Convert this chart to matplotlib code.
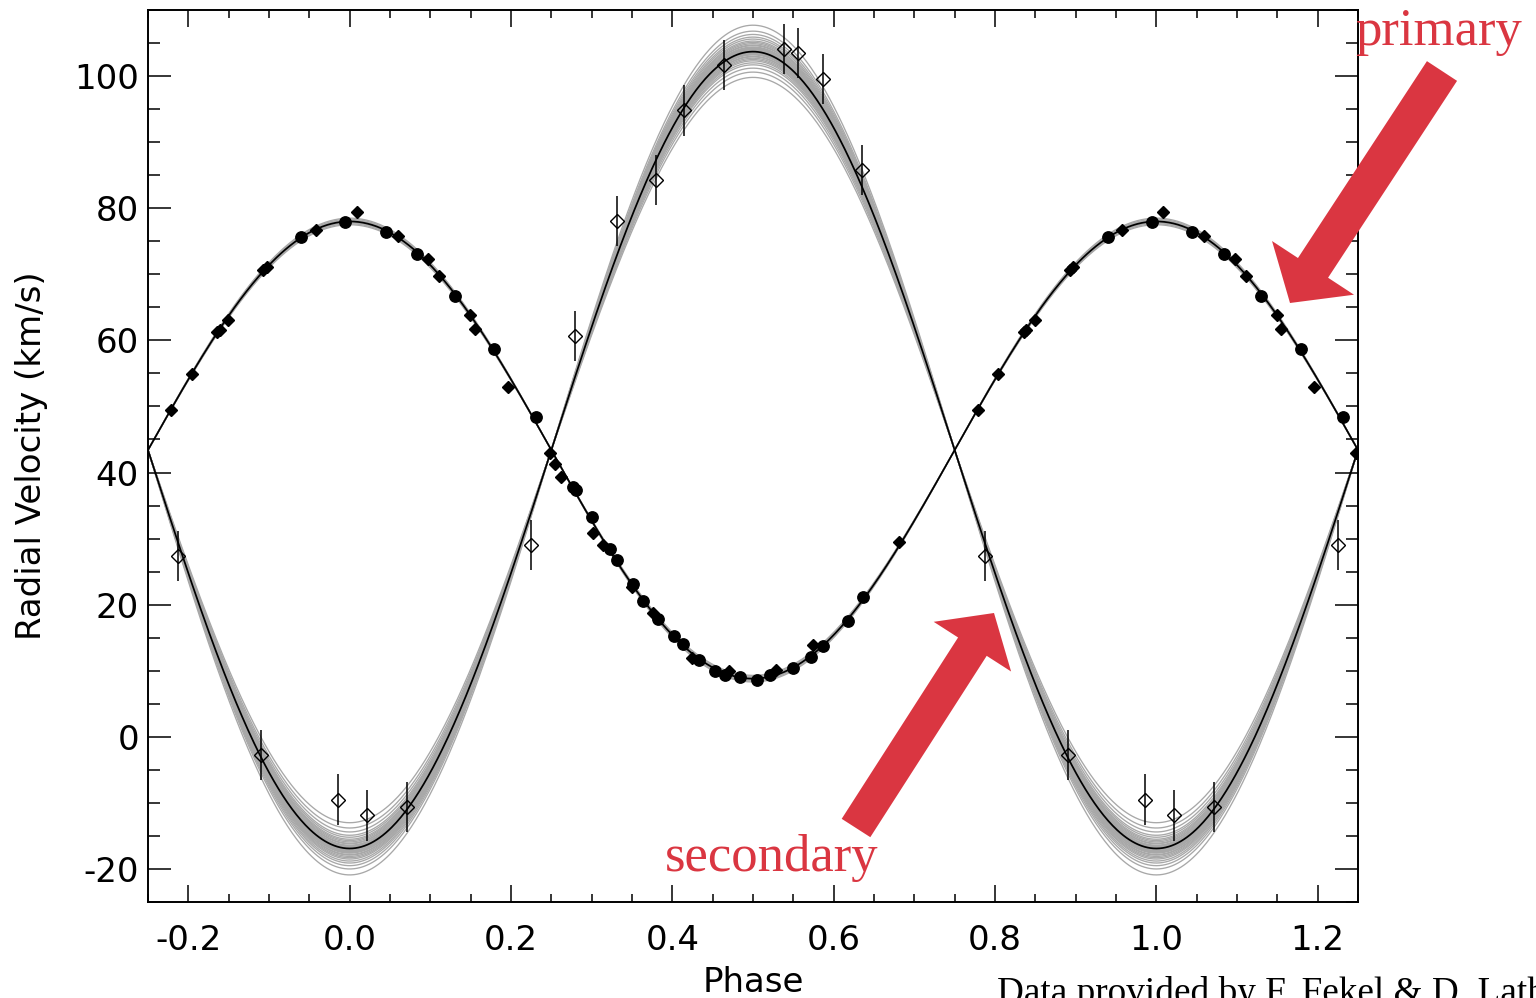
import numpy as np
import matplotlib
matplotlib.use("Agg")
import matplotlib.pyplot as plt
from matplotlib.ticker import MultipleLocator, FormatStrFormatter
from matplotlib.patches import FancyArrow

plt.rcParams["axes.unicode_minus"] = False
plt.rcParams["font.family"] = "DejaVu Sans"

# orbit solution (circular orbit)
gamma = 43.4
K1 = 34.6
K2 = 60.3

# posterior draws of the semi-amplitudes (grey curves)
K1_samples = [34.1, 34.25, 34.4, 34.5, 34.6, 34.7, 34.8, 34.95, 35.1]
K2_samples = [56.4, 57.2, 57.8, 58.3, 58.6, 58.9, 59.1, 59.3, 59.5, 59.6,
              59.8, 59.9, 60.0, 60.1, 60.2, 60.3, 60.4, 60.5, 60.6, 60.7,
              60.8, 60.9, 61.0, 61.2, 61.3, 61.5, 61.7, 61.9, 62.2, 62.5,
              62.9, 63.4, 64.3]

# primary, first data set (filled circles)
prim_a_phase = [0.940, 0.9945, 0.0447, 0.0839, 0.130, 0.179, 0.231, 0.277,
                0.2806, 0.300, 0.3227, 0.331, 0.351, 0.364, 0.3826, 0.402,
                0.4136, 0.4335, 0.4529, 0.465, 0.4839, 0.5046, 0.521, 0.550,
                0.5715, 0.587, 0.618, 0.6368]
prim_a_rv = [75.7, 77.9, 76.4, 73.1, 66.7, 58.7, 48.4, 37.8,
             37.3, 33.3, 28.5, 26.7, 23.1, 20.5, 17.8, 15.3,
             14.0, 11.6, 10.0, 9.4, 9.1, 8.6, 9.4, 10.4,
             12.1, 13.8, 17.6, 21.2]

# primary, second data set (filled diamonds)
prim_b_phase = [0.7785, 0.804, 0.836, 0.839, 0.849, 0.893, 0.897, 0.958,
                0.0087, 0.0595, 0.097, 0.111, 0.149, 0.155, 0.196, 0.248,
                0.2545, 0.2616, 0.302, 0.3145, 0.3496, 0.3764, 0.424, 0.4706,
                0.529, 0.5748, 0.6814]
prim_b_rv = [49.5, 54.9, 61.2, 61.5, 63.1, 70.6, 71.1, 76.7,
             79.4, 75.8, 72.3, 69.8, 63.9, 61.7, 52.9, 42.9,
             41.3, 39.3, 30.8, 29.0, 22.7, 18.7, 11.9, 9.9,
             10.1, 13.9, 29.5]

# secondary (open diamonds with error bars)
sec_phase = [0.787, 0.890, 0.9855, 0.0215, 0.071, 0.2248, 0.2793, 0.3318,
             0.380, 0.414, 0.4645, 0.538, 0.5558, 0.5863, 0.635]
sec_rv = [27.4, -2.7, -9.5, -11.9, -10.6, 29.0, 60.7, 78.1,
          84.3, 94.8, 101.7, 104.1, 103.5, 99.5, 85.8]
sec_err = [3.8] * len(sec_phase)


def wrap(phase, vals):
    # repeat points so the plot covers phase -0.25 .. 1.25
    p = np.asarray(phase)
    v = np.asarray(vals)
    pp = np.concatenate([p, p - 1, p + 1])
    vv = np.concatenate([v, v, v])
    keep = (pp >= -0.25) & (pp <= 1.25)
    return pp[keep], vv[keep]


fig = plt.figure(figsize=(15.36, 9.98), dpi=100)
ax = fig.add_axes([148 / 1536, 96 / 998, 1210 / 1536, 892 / 998])

ph = np.linspace(-0.25, 1.25, 800)
for k in K2_samples:
    ax.plot(ph, gamma - k * np.cos(2 * np.pi * ph), color="#a8a8a8", lw=0.95, zorder=1)
for k in K1_samples:
    ax.plot(ph, gamma + k * np.cos(2 * np.pi * ph), color="#a8a8a8", lw=0.95, zorder=1)
ax.plot(ph, gamma + K1 * np.cos(2 * np.pi * ph), color="black", lw=1.25, zorder=2)
ax.plot(ph, gamma - K2 * np.cos(2 * np.pi * ph), color="black", lw=1.25, zorder=2)

x, y = wrap(prim_a_phase, prim_a_rv)
ax.plot(x, y, "o", color="black", ms=8.2, ls="none", zorder=3)
x, y = wrap(prim_b_phase, prim_b_rv)
ax.plot(x, y, "D", color="black", ms=6.4, ls="none", zorder=3)
x, y = wrap(sec_phase, sec_rv)
_, e = wrap(sec_phase, sec_err)
ax.errorbar(x, y, yerr=e, fmt="D", ms=7.0, mfc="none", mec="black", mew=1.0,
            ecolor="black", elinewidth=1.1, capsize=0, zorder=3)

ax.set_xlim(-0.25, 1.25)
ax.set_ylim(-25, 110)
ax.xaxis.set_major_locator(MultipleLocator(0.2))
ax.xaxis.set_minor_locator(MultipleLocator(0.05))
ax.yaxis.set_major_locator(MultipleLocator(20))
ax.yaxis.set_minor_locator(MultipleLocator(5))
ax.xaxis.set_major_formatter(FormatStrFormatter("%.1f"))
ax.yaxis.set_major_formatter(FormatStrFormatter("%d"))

ax.tick_params(which="both", direction="in", top=True, right=True,
               width=1.1, labelsize=24.5)
ax.tick_params(axis="x", which="major", length=12, pad=16)
ax.tick_params(axis="x", which="minor", length=5.5)
ax.tick_params(axis="y", which="major", length=16.5, pad=6.5)
ax.tick_params(axis="y", which="minor", length=8.5)
for s in ax.spines.values():
    s.set_linewidth(1.4)

ax.set_xlabel("Phase", fontsize=24.5, labelpad=6)
ax.set_ylabel("Radial Velocity (km/s)", fontsize=24.5, labelpad=19)

# overlay in pixel coordinates for the annotations
over = fig.add_axes([0, 0, 1, 1])
over.set_xlim(0, 1536)
over.set_ylim(998, 0)
over.axis("off")
over.patch.set_visible(False)

red = "#DA3641"
over.add_patch(FancyArrow(1442, 71, -152, 232, width=36, head_width=98,
                          head_length=42, length_includes_head=True,
                          color=red, lw=0))
over.add_patch(FancyArrow(856, 828, 138, -215, width=34, head_width=92,
                          head_length=40, length_includes_head=True,
                          color=red, lw=0))
over.text(1355, 45, "primary", color=red, fontsize=38,
          family="Liberation Serif", va="baseline", ha="left")
over.text(665, 871, "secondary", color=red, fontsize=38,
          family="Liberation Serif", va="baseline", ha="left")
over.text(997, 1003, "Data provided by F. Fekel & D. Latham", color="black",
          fontsize=26.8, family="Liberation Serif", va="baseline", ha="left")

fig.savefig("out.png", dpi=100)
